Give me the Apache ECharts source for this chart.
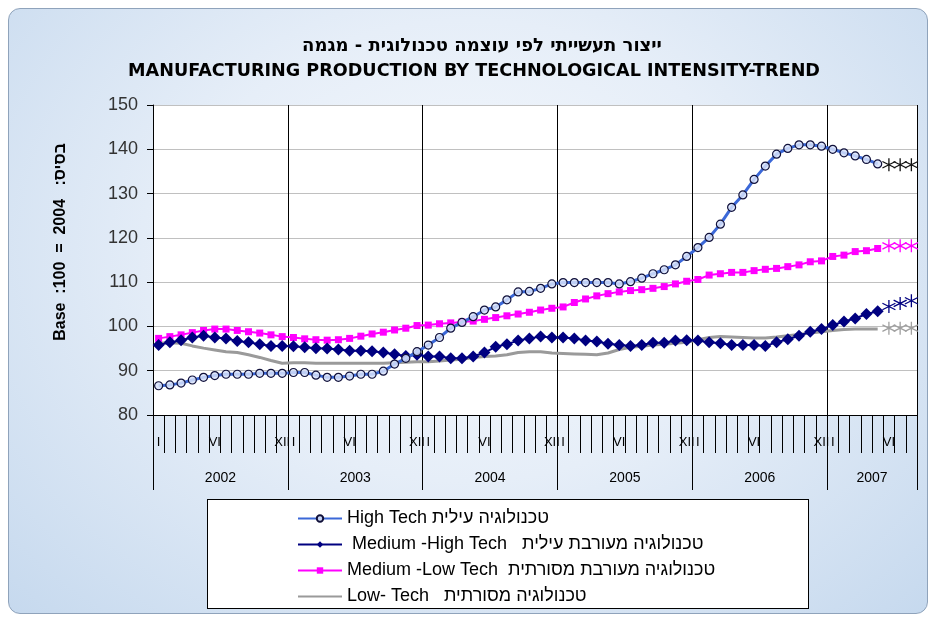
<!DOCTYPE html>
<html>
<head>
<meta charset="utf-8">
<script src="https://cdn.jsdelivr.net/npm/echarts@6/dist/echarts.min.js"></script>
<style>
  html, body { margin: 0; padding: 0; background: #ffffff; }
  #wrap { position: relative; width: 936px; height: 621px; }
  #bg { position: absolute; left: 8px; top: 8px; width: 918px; height: 604px;
        border: 1px solid #8fa3bb; border-radius: 12px;
        background: radial-gradient(ellipse at 50% 40%, #f6f9fd 0%, #e6eef8 45%, #c6d9ee 100%); }
  #legbox { position: absolute; left: 207px; top: 499px; width: 600px; height: 108px;
        background: #ffffff; border: 1px solid #000; }
  #chart { position: absolute; left: 0; top: 0; width: 936px; height: 621px; }
</style>
</head>
<body>
<div id="wrap">
  <div id="bg"></div>
  <div id="legbox"></div>
  <div id="chart"></div>
</div>
<script>
// ---------- data ----------
const years = [2002, 2003, 2004, 2005, 2006, 2007];
const monthsInYear = [12, 12, 12, 12, 12, 8];
const monthTickLabels = ['I', '', '', '', '', 'VI', '', '', '', '', '', 'XII'];

const titleHe = 'ייצור תעשייתי לפי עוצמה טכנולוגית - מגמה';
const titleEn = 'MANUFACTURING PRODUCTION BY TECHNOLOGICAL INTENSITY-TREND';
const yAxisName = 'Base  :100  =  2004   :בסיס';

const seriesNames = [
  'High Tech טכנולוגיה עילית',
  ' Medium -High Tech   טכנולוגיה מעורבת עילית',
  'Medium -Low Tech  טכנולוגיה מעורבת מסורתית',
  'Low- Tech   טכנולוגיה מסורתית'
];

// monthly trend values, Jan 2002 .. May 2007
const highTech = [
  86.6, 86.8, 87.2, 87.9, 88.5, 88.9, 89.2, 89.2, 89.2, 89.4, 89.4, 89.4,
  89.6, 89.6, 89.0, 88.5, 88.5, 88.8, 89.2, 89.2, 89.9, 91.5, 92.8, 94.3,
  95.8, 97.5, 99.6, 100.9, 102.2, 103.7, 104.4, 106.0, 107.8, 107.9, 108.6, 109.6,
  109.9, 109.9, 109.9, 109.9, 109.9, 109.6, 110.1, 110.9, 111.9, 112.8, 113.9, 115.8,
  117.8, 120.1, 123.1, 126.9, 129.7, 133.2, 136.2, 138.9, 140.2, 141.0, 141.0, 140.7,
  140.0, 139.2, 138.5, 137.7, 136.7
];
const mediumHigh = [
  95.8, 96.4, 96.9, 97.5, 97.9, 97.5, 97.3, 96.7, 96.4, 96.0, 95.6, 95.6,
  95.5, 95.3, 95.1, 95.0, 94.8, 94.5, 94.5, 94.4, 94.1, 93.7, 93.3, 93.6,
  93.2, 93.2, 92.8, 92.8, 93.2, 94.1, 95.4, 96.0, 96.8, 97.3, 97.7, 97.5,
  97.5, 97.3, 96.8, 96.6, 96.1, 95.8, 95.6, 95.8, 96.3, 96.3, 96.8, 96.9,
  96.8, 96.4, 96.2, 95.8, 95.8, 95.8, 95.6, 96.4, 97.1, 97.9, 98.8, 99.4,
  100.3, 101.1, 101.8, 102.8, 103.4
];
const mediumLow = [
  97.3, 97.7, 98.1, 98.6, 99.1, 99.4, 99.4, 99.1, 98.8, 98.5, 98.1, 97.7,
  97.5, 97.2, 97.0, 96.9, 97.0, 97.3, 97.8, 98.3, 98.7, 99.2, 99.6, 100.2,
  100.3, 100.6, 100.8, 101.0, 101.2, 101.6, 102.0, 102.4, 102.8, 103.2, 103.7, 104.1,
  104.4, 105.4, 106.2, 106.9, 107.4, 107.8, 108.1, 108.3, 108.6, 109.0, 109.6, 110.2,
  110.6, 111.6, 111.9, 112.2, 112.2, 112.6, 112.9, 113.1, 113.5, 113.9, 114.6, 114.8,
  115.8, 116.1, 116.9, 117.1, 117.6
];
const lowTech = [
  96.2, 96.3, 96.2, 95.6, 95.1, 94.7, 94.3, 94.1, 93.6, 93.0, 92.3, 91.7,
  91.8, 91.8, 91.7, 91.7, 91.7, 91.7, 91.7, 91.7, 91.7, 91.8, 91.9, 92.0,
  92.0, 92.2, 92.4, 92.6, 93.0, 93.2, 93.3, 93.6, 94.1, 94.3, 94.3, 94.0,
  93.9, 93.8, 93.7, 93.6, 94.0, 94.8, 95.3, 95.5, 95.8, 96.0, 96.2, 96.4,
  97.0, 97.5, 97.7, 97.6, 97.5, 97.4, 97.4, 97.6, 97.9, 98.2, 98.5, 98.8,
  99.1, 99.3, 99.4, 99.4, 99.4
];
// forecast points (asterisks), Jun..Aug 2007
const forecastStart = 65;
const highTechForecast = [136.5, 136.5, 136.5];
const mediumHighForecast = [104.5, 105.2, 105.8];
const mediumLowForecast = [118.2, 118.2, 118.2];
const lowTechForecast = [99.6, 99.6, 99.6];

// ---------- build ----------
const categories = [];
const yearCenters = {};
let idx = 0;
years.forEach((y, k) => {
  const start = idx;
  for (let m = 0; m < monthsInYear[k]; m++) { categories.push(y + '-' + (m + 1)); idx++; }
  yearCenters[(start + idx) / 2] = String(y);
});
const nCat = categories.length;

function padForecast(vals) {
  const arr = new Array(forecastStart).fill(null);
  return arr.concat(vals);
}
const asterisk = 'path://M5,0L5,10M0.7,2.5L9.3,7.5M0.7,7.5L9.3,2.5';

const chart = echarts.init(document.getElementById('chart'), null, { renderer: 'canvas' });

const mainFont = '"Liberation Sans", Arial, sans-serif';

chart.setOption({
  animation: false,
  backgroundColor: 'transparent',
  graphic: [
    { type: 'text', x: 482, y: 46, style: { text: titleHe, align: 'center', verticalAlign: 'middle',
      font: 'bold 18px "DejaVu Sans", sans-serif', fill: '#000' } },
    { type: 'text', x: 474, y: 71, style: { text: titleEn, align: 'center', verticalAlign: 'middle',
      font: 'bold 17.6px "DejaVu Sans", sans-serif', fill: '#000' } }
  ],
  grid: { left: 153, right: 19, top: 105, bottom: 206, show: true, backgroundColor: '#ffffff', borderWidth: 0 },
  legend: {
    orient: 'vertical', left: 292, top: 503, itemWidth: 44, itemHeight: 8, itemGap: 5,
    data: [
      { name: seriesNames[0] },
      { name: seriesNames[1] },
      { name: seriesNames[2] },
      { name: seriesNames[3], itemStyle: { color: 'rgba(0,0,0,0)', borderWidth: 0 } }
    ],
    textStyle: { fontFamily: mainFont, fontSize: 18, color: '#000', lineHeight: 21 }
  },
  xAxis: [
    {
      type: 'category', data: categories, position: 'bottom', boundaryGap: true,
      axisLine: { show: true, lineStyle: { color: '#000', width: 1 } },
      axisTick: { show: true, interval: 0, length: 38, lineStyle: { color: '#000', width: 1 } },
      axisLabel: { interval: 0, margin: 21, fontFamily: mainFont, fontSize: 13, color: '#000',
        formatter: (v, i) => monthTickLabels[i % 12] },
      splitLine: { show: true, interval: (i) => i > 0 && i % 12 === 0, lineStyle: { color: '#000', width: 1 } }
    },
    {
      type: 'category', data: categories, position: 'bottom', boundaryGap: true,
      axisLine: { show: false },
      axisTick: { show: true, interval: (i) => i % 12 === 0, length: 75, lineStyle: { color: '#000', width: 1 } },
      axisLabel: { show: false },
      splitLine: { show: false }
    },
    {
      type: 'value', min: 0, max: nCat, interval: 1, position: 'bottom',
      axisLine: { show: false }, axisTick: { show: false }, splitLine: { show: false },
      axisLabel: { margin: 56, fontFamily: mainFont, fontSize: 14, color: '#000',
        showMinLabel: true, showMaxLabel: true,
        formatter: (v) => yearCenters[v] || '' }
    }
  ],
  yAxis: {
    type: 'value', min: 80, max: 150, interval: 10,
    name: yAxisName, nameLocation: 'middle', nameRotate: 90, nameGap: 84,
    nameTextStyle: { fontFamily: mainFont, fontWeight: 'bold', fontSize: 16, color: '#000',
      padding: [0, 0, 0, 36] },
    axisLine: { show: true, lineStyle: { color: '#000', width: 1 } },
    axisTick: { show: true, length: 6, lineStyle: { color: '#000' } },
    axisLabel: { margin: 15, fontFamily: mainFont, fontSize: 18, color: '#333' },
    splitLine: { show: true, lineStyle: { color: '#c0c0c0', width: 1 } }
  },
  series: [
    {
      name: seriesNames[3], type: 'line', data: lowTech, showSymbol: false, symbol: 'none',
      lineStyle: { color: '#9a9a9a', width: 3 }, itemStyle: { color: '#9a9a9a' }, z: 2
    },
    {
      name: seriesNames[2], type: 'line', data: mediumLow, symbol: 'rect', symbolSize: 7,
      lineStyle: { color: '#ff00ff', width: 2 }, itemStyle: { color: '#ff00ff' }, z: 3
    },
    {
      name: seriesNames[1], type: 'line', data: mediumHigh, symbol: 'diamond', symbolSize: 12,
      lineStyle: { color: '#000080', width: 2 }, itemStyle: { color: '#000080' }, z: 4
    },
    {
      name: seriesNames[0], type: 'line', data: highTech, symbol: 'circle', symbolSize: 8,
      lineStyle: { color: '#3b68d8', width: 3 },
      itemStyle: { color: 'rgba(215,226,250,0.85)', borderColor: '#10103a', borderWidth: 1.2 }, z: 5
    },
    {
      name: 'hf', type: 'line', data: padForecast(highTechForecast), symbol: asterisk, symbolSize: 13,
      lineStyle: { width: 0, opacity: 0 }, itemStyle: { color: 'rgba(0,0,0,0)', borderColor: '#111', borderWidth: 1.3 }, z: 6
    },
    {
      name: 'mhf', type: 'line', data: padForecast(mediumHighForecast), symbol: asterisk, symbolSize: 13,
      lineStyle: { width: 0, opacity: 0 }, itemStyle: { color: 'rgba(0,0,0,0)', borderColor: '#000080', borderWidth: 1.3 }, z: 6
    },
    {
      name: 'mlf', type: 'line', data: padForecast(mediumLowForecast), symbol: asterisk, symbolSize: 13,
      lineStyle: { width: 0, opacity: 0 }, itemStyle: { color: 'rgba(0,0,0,0)', borderColor: '#ff00ff', borderWidth: 1.3 }, z: 6
    },
    {
      name: 'ltf', type: 'line', data: padForecast(lowTechForecast), symbol: asterisk, symbolSize: 13,
      lineStyle: { width: 0, opacity: 0 }, itemStyle: { color: 'rgba(0,0,0,0)', borderColor: '#a0a0a0', borderWidth: 1.3 }, z: 6
    }
  ]
});
</script>
</body>
</html>
